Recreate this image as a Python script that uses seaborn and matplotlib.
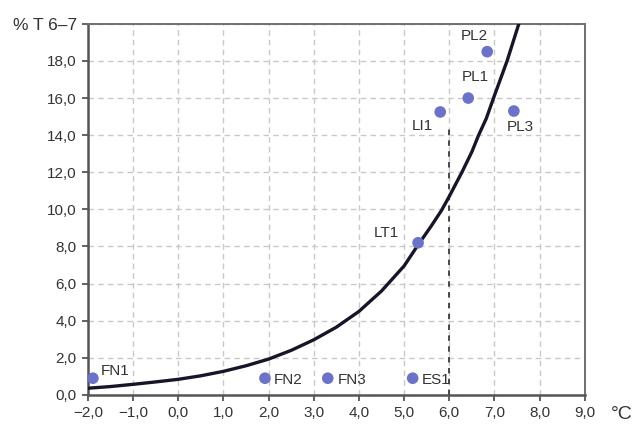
import matplotlib
matplotlib.use("Agg")
import matplotlib.pyplot as plt
import seaborn as sns
import pandas as pd

# ---- data ----
site_names = ["FN1", "FN2", "FN3", "ES1", "LT1", "LI1", "PL1", "PL2", "PL3"]
site_temp = [-1.89, 1.92, 3.31, 5.19, 5.31, 5.80, 6.42, 6.84, 7.43]
site_pct = [0.9, 0.9, 0.9, 0.9, 8.2, 15.25, 16.0, 18.5, 15.3]

curve_temp = [-2.0, -1.5, -1.0, -0.5, 0.0, 0.5, 1.0, 1.5, 2.0, 2.5, 3.0, 3.5,
              4.0, 4.5, 5.0, 5.3, 5.6, 5.83, 6.0, 6.28, 6.5, 6.65, 6.82,
              6.98, 7.13, 7.28, 7.41, 7.54]
curve_pct = [0.36, 0.45, 0.57, 0.70, 0.84, 1.03, 1.27, 1.57, 1.93, 2.40, 2.97, 3.65,
             4.5, 5.6, 6.95, 8.05, 9.1, 9.95, 10.7, 12.0, 13.1, 14.0, 14.9,
             16.0, 17.0, 18.0, 19.0, 20.0]

x_ticks = [-2, -1, 0, 1, 2, 3, 4, 5, 6, 7, 8, 9]
x_tick_labels = ["\u22122,0", "\u22121,0", "0,0", "1,0", "2,0", "3,0", "4,0",
                 "5,0", "6,0", "7,0", "8,0", "9,0"]
y_ticks = [0, 2, 4, 6, 8, 10, 12, 14, 16, 18, 20]
y_tick_labels = ["0,0", "2,0", "4,0", "6,0", "8,0", "10,0", "12,0", "14,0",
                 "16,0", "18,0", "% T 6\u20137"]
x_unit = "\u00b0C"

marker_x = 6.0
marker_top = 14.5

# label offsets in points (style)
label_offsets = {
    "FN1": (6, 5, "left"), "FN2": (6, -1.5, "left"), "FN3": (7, -1.5, "left"),
    "ES1": (6.5, -1.5, "left"), "LT1": (-14, 7, "right"), "LI1": (-5, -10, "right"),
    "PL1": (5, 15, "center"), "PL2": (-9, 11.5, "center"), "PL3": (4.3, -11.5, "center"),
}

sns.set_style("white")
plt.rcParams["font.family"] = ["Liberation Sans", "DejaVu Sans"]

fig = plt.figure(figsize=(6.37, 4.26), dpi=100)
ax = fig.add_axes([0.138, 0.073, 0.780, 0.871])

df_sites = pd.DataFrame({"temp": site_temp, "pct": site_pct, "name": site_names})
df_curve = pd.DataFrame({"temp": curve_temp, "pct": curve_pct})

ax.set_xlim(-2, 9)
ax.set_ylim(0, 20)
ax.set_xticks(x_ticks)
ax.set_xticklabels(x_tick_labels)
ax.set_yticks(y_ticks)
ax.set_yticklabels(y_tick_labels)

ax.grid(True, color="#c9c9c9", linestyle=(0, (4, 3)), linewidth=1.0)
ax.set_axisbelow(True)

ax.plot([marker_x, marker_x], [0, marker_top], color="#3a3a3a",
        linestyle=(0, (3, 3)), linewidth=1.3, zorder=1.5)

sns.lineplot(data=df_curve, x="temp", y="pct", ax=ax, color="#1a1428",
             linewidth=2.4, sort=False, zorder=3)
sns.scatterplot(data=df_sites, x="temp", y="pct", ax=ax, color="#6b72c8",
                s=70, edgecolor="none", zorder=4, clip_on=False)

for n, xv, yv in zip(site_names, site_temp, site_pct):
    dx, dy, ha = label_offsets[n]
    ax.annotate(n, (xv, yv), xytext=(dx, dy), textcoords="offset points",
                ha=ha, va="center", fontsize=11, color="#333333")

ax.set_xlabel("")
ax.set_ylabel("")
for side in ["left", "bottom"]:
    ax.spines[side].set_color("#555555")
    ax.spines[side].set_linewidth(1.8)
for side in ["top", "right"]:
    ax.spines[side].set_color("#707070")
    ax.spines[side].set_linewidth(1.4)
ax.tick_params(axis="both", direction="out", length=4, width=1.3, color="#555555",
               labelsize=11, labelcolor="#333333", pad=4,
               bottom=True, left=True)
ax.get_yticklabels()[-1].set_fontsize(12.5)

ax.text(1.075, -0.054, x_unit, transform=ax.transAxes, fontsize=14,
        color="#333333", ha="center", va="center")

fig.savefig("out.png", dpi=100)
